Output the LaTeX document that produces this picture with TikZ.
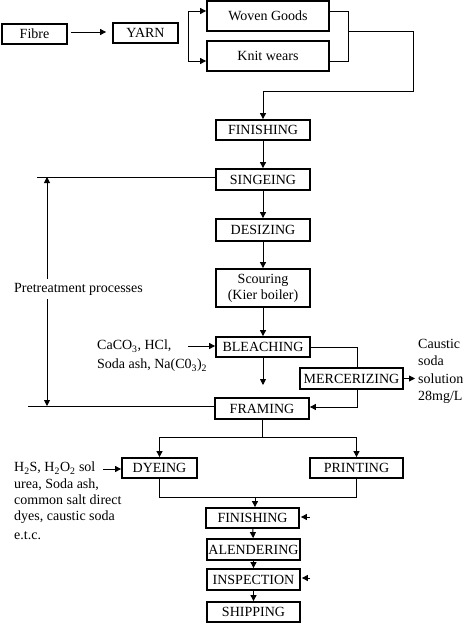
\documentclass[tikz,border=0pt]{standalone}
\usepackage{fontspec}
\setmainfont{Liberation Serif}
\usetikzlibrary{arrows.meta}
\begin{document}
\begin{tikzpicture}[x=1pt,y=-1pt,
  font=\fontsize{14}{16}\selectfont,
  box/.style={draw,line width=1.8pt,inner sep=0pt,align=center},
  line/.style={line width=0.9pt},
  arr/.style={line width=0.9pt,-{Triangle[length=6pt,width=6pt]}},
  lbl/.style={inner sep=0pt,align=left}]
\useasboundingbox (0,0) rectangle (474,632);
\fill[white] (0,0) rectangle (474,632);
% boxes
\node[box,minimum width=65pt,minimum height=20pt] (fibre) at (34.5,34) {Fibre};
\node[box,minimum width=65pt,minimum height=20pt] (yarn) at (145.5,33) {YARN};
\node[box,minimum width=122pt,minimum height=30pt] (woven) at (268,16) {Woven Goods};
\node[box,minimum width=122pt,minimum height=30pt] (knit) at (268,56) {Knit wears};
\node[box,minimum width=94pt,minimum height=20pt] (fin1) at (263,130) {FINISHING};
\node[box,minimum width=94pt,minimum height=21pt] (singe) at (263,179.5) {SINGEING};
\node[box,minimum width=94pt,minimum height=22pt] (desize) at (263,230) {DESIZING};
\node[box,minimum width=94pt,minimum height=38pt] (scour) at (263,288) {Scouring\\(Kier boiler)};
\node[box,minimum width=94pt,minimum height=20pt] (bleach) at (263,347) {BLEACHING};
\node[box,minimum width=103pt,minimum height=21pt] (merc) at (351.5,378.5) {MERCERIZING};
\node[box,minimum width=94pt,minimum height=21pt] (framing) at (262,408.5) {FRAMING};
\node[box,minimum width=75pt,minimum height=20pt] (dye) at (159.5,468) {DYEING};
\node[box,minimum width=93pt,minimum height=20pt] (print) at (356.5,468) {PRINTING};
\node[box,minimum width=93pt,minimum height=20pt] (fin2) at (252.5,518) {FINISHING};
\node[box,minimum width=93pt,minimum height=21pt] (alend) at (253.5,549.5) {ALENDERING};
\node[box,minimum width=93pt,minimum height=21pt] (insp) at (253.5,579.5) {INSPECTION};
\node[box,minimum width=93pt,minimum height=20pt] (ship) at (253.5,612) {SHIPPING};
% labels
\node[lbl,inner ysep=4pt] (ptext) at (78.5,289) {Pretreatment processes};
\node[lbl,anchor=west,font=\fontsize{14}{19}\selectfont] (chem1) at (97,356) {CaCO\textsubscript{3}, HCl,\\Soda ash, Na(C0\textsubscript{3})\textsubscript{2}};
\node[lbl,anchor=west,font=\fontsize{14}{17.3}\selectfont] (caustic) at (418,371.5) {Caustic\\soda\\solution\\28mg/L};
\node[lbl,anchor=north west,font=\fontsize{14}{16.2}\selectfont] (chem2) at (14,462) {H\textsubscript{2}S, H\textsubscript{2}O\textsubscript{2} sol\\urea, Soda ash,\\common salt direct\\dyes, caustic soda\\[3pt]e.t.c.};
% coordinates
\coordinate (bt) at (188,11);
\coordinate (bb) at (188,61);
\coordinate (rt) at (348,11);
\coordinate (rb) at (348,61);
\coordinate (rm) at (348,31);
\coordinate (c1) at (413,31);
\coordinate (c2) at (413,91);
\coordinate (bend) at (263,385);
\coordinate (pt) at (37,177);
\coordinate (pb) at (28,406);
\coordinate (va) at (47,177);
\coordinate (vb) at (47,406);
\coordinate (m1) at (357,347);
\coordinate (m2) at (357,407);
\coordinate (mc) at (415,378.5);
\coordinate (s) at (262,437);
\coordinate (j) at (255,497);
\coordinate (f2r) at (310,517);
\coordinate (ir) at (310,578);
\coordinate (ca) at (188,346);
\coordinate (hs) at (103,469);
% connectors
\draw[arr,shorten <=3pt,shorten >=6pt] (fibre.east |- 0,32) -- (yarn.west |- 0,32);
\draw[arr] (bb) -- (knit.west |- bb);
\draw[arr] (bb) -- (bt) -- (woven.west |- bt);
\draw[line] (woven.east |- rt) -- (rt) -- (rb) -- (knit.east |- rb);
\draw[arr] (rm) -- (c1) -- (c2) -- (fin1.north |- c2) -- (fin1.north);
\draw[arr] (fin1) -- (singe);
\draw[arr] (singe) -- (desize);
\draw[arr] (desize) -- (scour);
\draw[arr] (scour) -- (bleach);
\draw[arr] (bleach.south) -- (bend);
\draw[line] (singe.west |- pt) -- (pt);
\draw[line] (framing.west |- pb) -- (pb);
\draw[arr] (va |- ptext.north) -- (va);
\draw[arr] (vb |- ptext.south) -- (vb);
\draw[line] (bleach.east |- m1) -- (m1) -- (m1 |- merc.north);
\draw[arr] (m1 |- merc.south) -- (m2) -- (framing.east |- m2);
\draw[arr] (merc.east) -- (mc);
\draw[line] (framing.south) -- (s);
\draw[arr] (s) -- (dye.north |- s) -- (dye.north);
\draw[arr] (s) -- (print.north |- s) -- (print.north);
\draw[line] (dye.south) -- (dye.south |- j) -- (print.south |- j) -- (print.south);
\draw[arr] (j) -- (j |- fin2.north);
\draw[arr] (fin2) -- (alend);
\draw[arr] (alend) -- (insp);
\draw[arr] (insp) -- (ship);
\draw[arr,shorten >=1pt] (f2r) -- (fin2.east |- f2r);
\draw[arr,shorten >=1pt] (ir) -- (insp.east |- ir);
\draw[arr] (ca) -- (bleach.west |- ca);
\draw[arr] (hs) -- (dye.west |- hs);
\end{tikzpicture}
\end{document}
